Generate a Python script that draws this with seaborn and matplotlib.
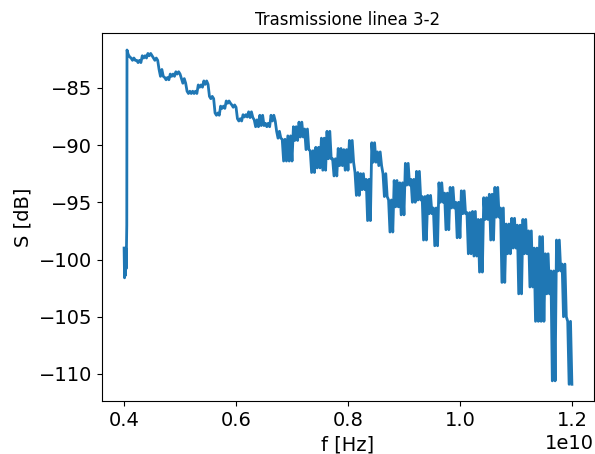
import numpy as np
import pandas as pd
import matplotlib
matplotlib.use("Agg")
import matplotlib.pyplot as plt
import seaborn as sns

# Start of the sweep, before the line turns on (frequency in units of 1e10 Hz)
onset_f = [0.4000, 0.4008, 0.4015, 0.4022, 0.4030, 0.4037, 0.4043, 0.4048, 0.4052]
onset_s = [-99.0, -101.6, -99.2, -101.4, -99.0, -100.8, -98.9, -97.0, -81.7]

# Sweep from 0.41e10 to 1.20e10 Hz in 0.01e10 steps:
# upper and lower excursion of the noisy trace within each step [dB]
step_hi = [
    -82.1, -82.4, -82.6, -82.2, -82.0, -82.4, -83.4, -84.1, -83.8, -83.6,
    -84.2, -85.3, -85.3, -84.75, -84.4, -85.75, -87.2, -86.6, -86.15, -86.5,
    -87.7, -87.35, -87.1, -87.8, -87.4, -88.1, -87.4, -88.8, -89.5, -89.2,
    -88.4, -88.0, -88.6, -90.5, -90.2, -89.4, -88.8, -91.2, -90.3, -90.4,
    -89.6, -92.4, -92.5, -93.0, -89.8, -90.6, -92.5, -94.8, -93.1, -93.3,
    -91.6, -93.0, -92.3, -94.5, -94.4, -95.5, -93.3, -94.2, -93.7, -95.0,
    -94.0, -95.9, -95.8, -96.5, -94.6, -94.3, -93.7, -95.5, -96.9, -96.4,
    -97.0, -96.5, -97.5, -99.0, -98.0, -99.5, -101.0, -98.3, -100.4, -105.4,
]
step_lo = [
    -82.3, -82.6, -82.8, -82.4, -82.2, -82.6, -84.0, -84.3, -84.0, -83.8,
    -84.6, -85.5, -85.5, -84.95, -84.7, -85.95, -87.4, -86.8, -86.35, -86.7,
    -87.9, -87.55, -87.6, -88.4, -88.3, -88.4, -87.9, -89.4, -91.4, -91.4,
    -89.6, -89.3, -90.4, -92.4, -92.0, -92.2, -91.2, -92.7, -91.8, -92.2,
    -91.5, -94.4, -93.9, -96.6, -91.5, -91.8, -94.5, -97.6, -95.4, -96.1,
    -93.5, -95.0, -94.8, -98.3, -96.0, -98.8, -95.0, -97.4, -95.5, -98.1,
    -96.0, -99.5, -99.7, -101.1, -96.5, -98.3, -96.3, -102.0, -99.5, -99.0,
    -103.0, -99.5, -102.4, -105.4, -105.4, -103.0, -110.6, -101.0, -105.0, -110.9,
]

step_f = np.round(np.arange(0.41, 1.2001, 0.01), 2)

# Trace: onset, then the trace swings between the upper and lower
# excursion twice within each step
f_trace = list(onset_f)
s_trace = list(onset_s)
offsets = [-0.0075, -0.005, -0.0025, 0.0]
for f, hi, lo in zip(step_f, step_hi, step_lo):
    for off, val in zip(offsets, [hi, lo, hi, lo]):
        if f + off > onset_f[-1]:
            f_trace.append(f + off)
            s_trace.append(val)

df = pd.DataFrame({"f": np.array(f_trace) * 1e10, "S": s_trace})

fig = plt.figure(figsize=(5.95, 4.54), dpi=100)
ax = fig.add_axes([101.7 / 595, 53 / 454, 492.6 / 595, 367.7 / 454])
sns.lineplot(data=df, x="f", y="S", ax=ax, color="#1f77b4", linewidth=2.0,
             estimator=None, sort=False)

ax.set_title("Trasmissione linea 3-2", fontsize=12)
ax.set_xlabel("f [Hz]", fontsize=14)
ax.set_ylabel("S [dB]", fontsize=14)
ax.tick_params(labelsize=14)
ax.xaxis.get_offset_text().set_fontsize(14)
ax.set_xticks(np.array([0.4, 0.6, 0.8, 1.0, 1.2]) * 1e10)
ax.set_yticks([-85, -90, -95, -100, -105, -110])

fig.savefig("out.png", dpi=100)
